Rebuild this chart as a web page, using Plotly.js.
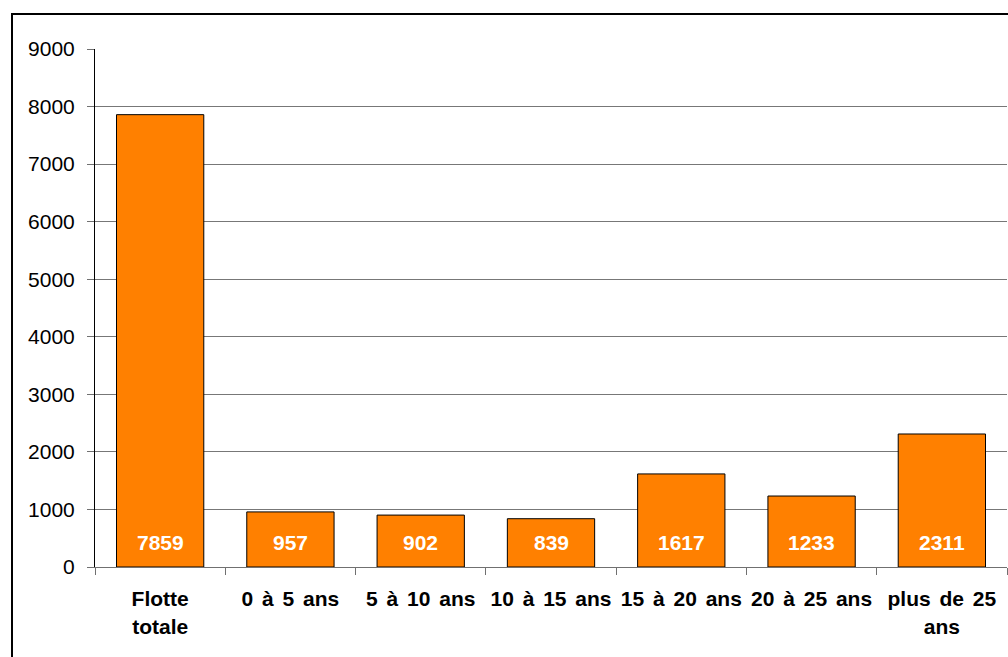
<!DOCTYPE html>
<html>
<head>
<meta charset="utf-8">
<script src="https://cdn.plot.ly/plotly-3.0.1.min.js"></script>
<style>
  html, body { margin: 0; padding: 0; background: #fff; overflow: hidden; }
  #chart { position: absolute; left: 0; top: 0; width: 1008px; height: 657px; }
  #frame { position: absolute; left: 11px; top: 13px; width: 1100px; height: 800px;
           border: 2px solid #000; pointer-events: none; }
  #chart .xtick text { word-spacing: 3px; }
</style>
</head>
<body>
<div id="chart"></div>
<div id="frame"></div>
<script>
// Fleet by age bracket
const categories = ['Flotte<br>totale', '0 à 5 ans', '5 à 10 ans', '10 à 15 ans',
                    '15 à 20 ans', '20 à 25 ans', 'plus de 25<br>ans'];
const values = [7859, 957, 902, 839, 1617, 1233, 2311];
const yTicks = [0, 1000, 2000, 3000, 4000, 5000, 6000, 7000, 8000, 9000];

const font = 'Liberation Sans, Arial, sans-serif';

const trace = {
  type: 'bar',
  x: categories,
  y: values,
  marker: { color: '#FF8000', line: { color: '#000', width: 1 } },
  hoverinfo: 'skip'
};

// value labels sit near the foot of each bar
const annotations = categories.map((c, i) => ({
  x: c, y: 0, xref: 'x', yref: 'y',
  text: String(values[i]),
  showarrow: false,
  yanchor: 'bottom',
  yshift: 11,
  font: { family: font, size: 21, color: '#fff', weight: 'bold' }
}));

const layout = {
  width: 1008, height: 657,
  margin: { l: 95, r: 1, t: 49, b: 90 },
  paper_bgcolor: 'rgba(0,0,0,0)',
  plot_bgcolor: '#fff',
  bargap: 0.33,
  showlegend: false,
  font: { family: font, color: '#000' },
  xaxis: {
    type: 'category',
    showgrid: false,
    showline: true, linecolor: '#707070', linewidth: 1,
    ticks: 'outside', ticklen: 7, tickcolor: '#707070',
    tickson: 'boundaries',
    tickfont: { family: font, size: 21, weight: 'bold' },
    ticklabelstandoff: 13,
    fixedrange: true
  },
  yaxis: {
    range: [0, 9000],
    tickvals: yTicks,
    ticktext: yTicks.map(String),
    showgrid: true, gridcolor: '#777777', gridwidth: 1,
    zeroline: false,
    showline: true, linecolor: '#000', linewidth: 1,
    ticks: 'outside', ticklen: 7, tickcolor: '#707070',
    tickfont: { family: font, size: 21 },
    ticklabelstandoff: 8,
    fixedrange: true
  },
  annotations: annotations
};

Plotly.newPlot('chart', [trace], layout, { displayModeBar: false, staticPlot: true });
</script>
</body>
</html>
